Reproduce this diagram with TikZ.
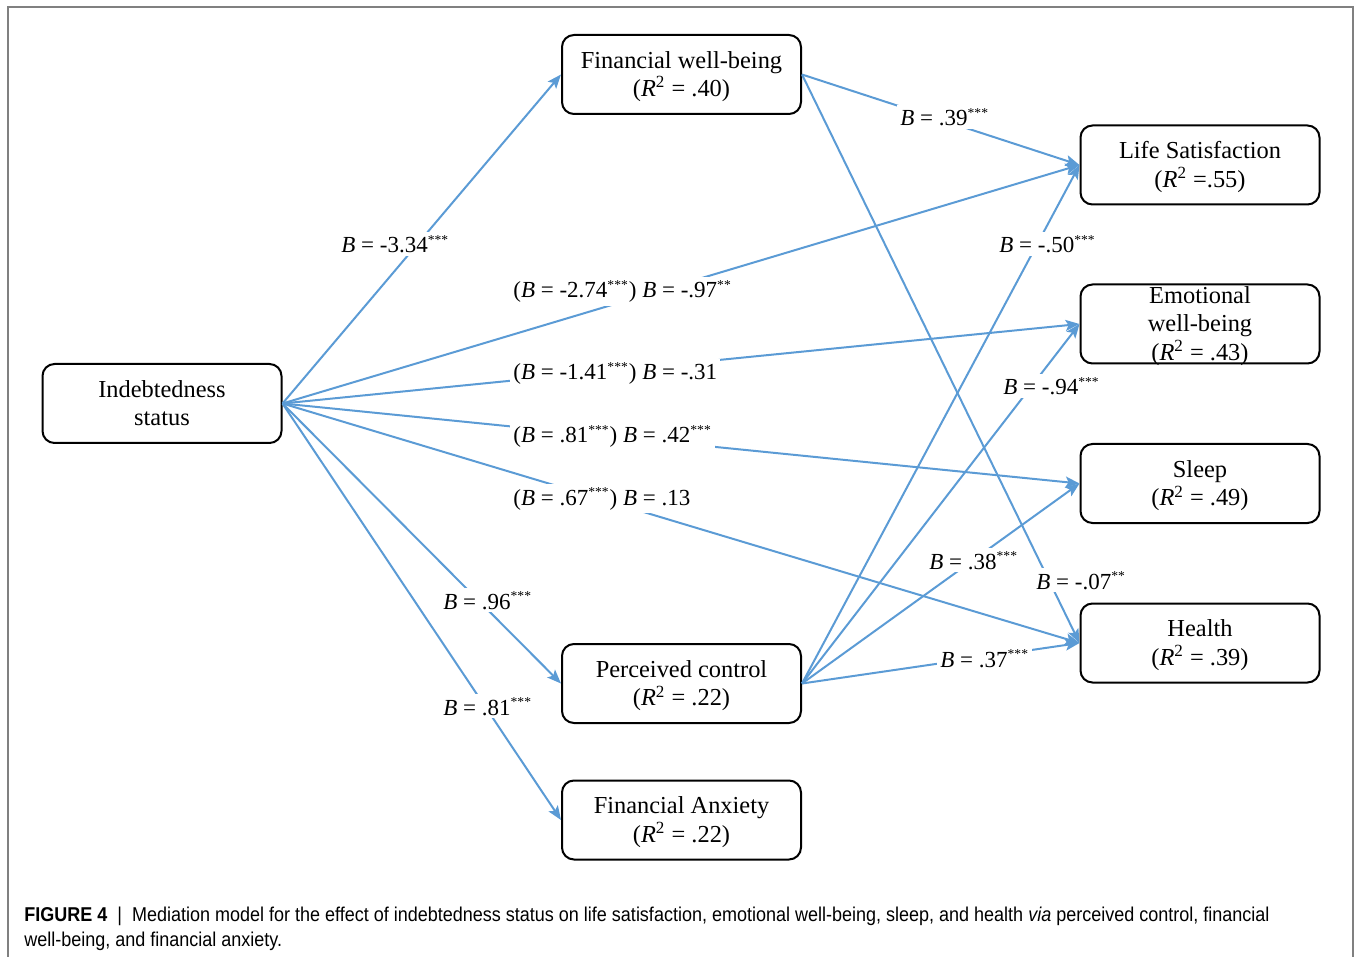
\documentclass[tikz,border=0pt]{standalone}
\usepackage{fontspec}
\setmainfont{Liberation Serif}
\newfontfamily\capfont[FakeStretch=0.9]{Liberation Sans}
\usetikzlibrary{arrows.meta}

\definecolor{pathblue}{RGB}{91,155,213}
\definecolor{framegrey}{RGB}{128,128,128}

\tikzstyle{var} = [draw=black, line width=1pt, rounded corners=6pt, minimum width=119.5pt, minimum height=39.5pt, align=center, font=\fontsize{12.2}{14}\selectfont]
\tikzstyle{arrow} = [pathblue, line width=1pt, -{Stealth[length=7pt,width=5.5pt,inset=1.5pt]}]
\tikzstyle{coef} = [fill=white, inner sep=1.5pt, anchor=base west, font=\fontsize{11.5}{14}\selectfont]

\newcommand{\sig}[1]{\textsuperscript{\fontsize{6.8}{7}\selectfont #1}}
\newcommand{\Bq}{\textit{B} = }
\newcommand{\Rq}{\textit{R}\textsuperscript{2}}
\newcommand{\vartext}[1]{\raisebox{-4.2pt}[0pt][0pt]{\begin{tabular}{@{}c@{}}#1\end{tabular}}}

\begin{document}
\begin{tikzpicture}[x=0.5pt,y=-0.5pt]
\useasboundingbox (0,0) rectangle (1356,957);

% Frame
\draw [framegrey, line width=1pt] (8,962) -- (8,7.5) -- (1353,7.5) -- (1353,962);

% Variables
\node [var] (ind) at (162,403.5) {\vartext{Indebtedness\\status}};
\node [var] (fwb) at (681.5,74.5) {\vartext{Financial well-being\\(\Rq{} = .40)}};
\node [var] (pc)  at (681.5,683.5) {\vartext{Perceived control\\(\Rq{} = .22)}};
\node [var] (fa)  at (681.5,820) {\vartext{Financial Anxiety\\(\Rq{} = .22)}};
\node [var] (ls)  at (1200,165) {\vartext{Life Satisfaction\\(\Rq{} =.55)}};
\node [var] (ew)  at (1200,324) {\vartext{Emotional\\well-being\\(\Rq{} = .43)}};
\node [var] (sl)  at (1200,483.5) {\vartext{Sleep\\(\Rq{} = .49)}};
\node [var] (he)  at (1200,643) {\vartext{Health\\(\Rq{} = .39)}};

% Paths from indebtedness
\draw [arrow] (ind.east) -- (fwb.west);
\draw [arrow] (ind.east) -- (ls.west);
\draw [arrow] (ind.east) -- (ew.west);
\draw [arrow] (ind.east) -- (sl.west);
\draw [arrow] (ind.east) -- (he.west);
\draw [arrow] (ind.east) -- (pc.west);
\draw [arrow] (ind.east) -- (fa.west);

% Paths from the mediators
\draw [arrow] (fwb.east) -- (ls.west);
\draw [arrow] (fwb.east) -- (he.west);
\draw [arrow] (pc.east) -- (ls.west);
\draw [arrow] (pc.east) -- (ew.west);
\draw [arrow] (pc.east) -- (sl.west);
\draw [arrow] (pc.east) -- (he.west);

% Coefficients
\node [coef] (b1) at (338,253) {\Bq-3.34\sig{***}};
\node [coef] (b2) at (510,298) {(\Bq-2.74\sig{***}) \Bq-.97\sig{**}};
\node [coef] (b3) at (510,380) {(\Bq-1.41\sig{***}) \Bq-.31};
\node [coef] (b4) at (510,443) {(\Bq.81\sig{***}) \Bq.42\sig{***}};
\node [coef] (b5) at (510,505) {(\Bq.67\sig{***}) \Bq.13};
\node [coef] (b6) at (440,609) {\Bq.96\sig{***}};
\node [coef] (b7) at (440,715) {\Bq.81\sig{***}};
\node [coef] (b8) at (897,126) {\Bq.39\sig{***}};
\node [coef] (b9) at (996,253) {\Bq-.50\sig{***}};
\node [coef] (b10) at (1000,395) {\Bq-.94\sig{***}};
\node [coef] (b11) at (926,569) {\Bq.38\sig{***}};
\node [coef] (b12) at (1033,589) {\Bq-.07\sig{**}};
\node [coef] (b13) at (937,667) {\Bq.37\sig{***}};

% Caption
\node [anchor=base west, align=left, inner sep=0pt, font=\capfont\fontsize{10}{12.5}\selectfont] (cap) at (24,946)
  {\textbf{FIGURE 4}\enspace|\enspace Mediation model for the effect of indebtedness status on life satisfaction, emotional well-being, sleep, and health \textit{via} perceived control, financial\\well-being, and financial anxiety.};

\end{tikzpicture}
\end{document}
